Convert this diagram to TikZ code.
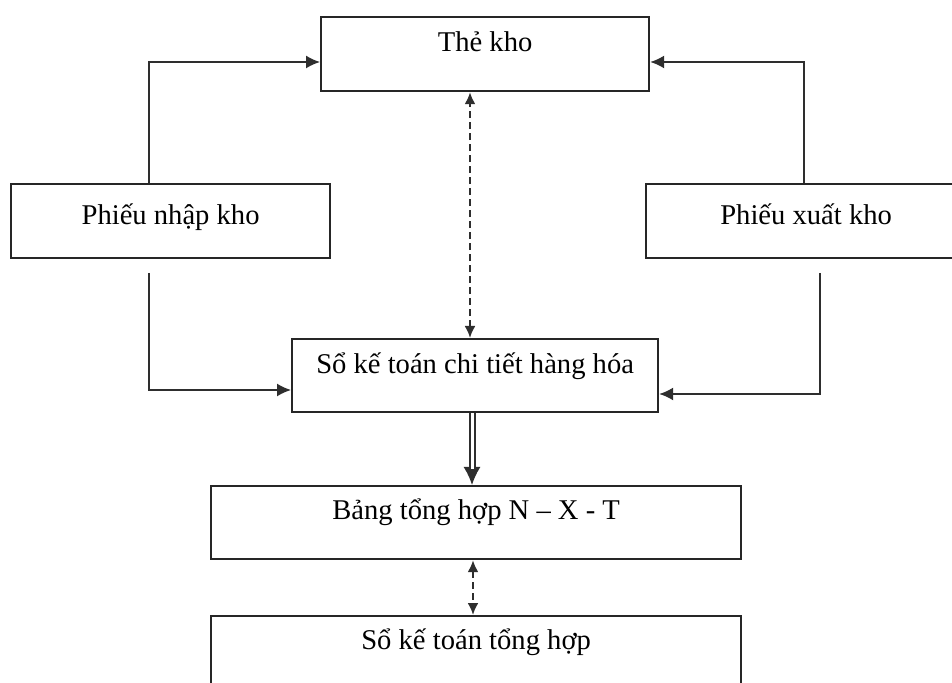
\documentclass[tikz,border=0pt]{standalone}
\usepackage{fontspec}
\setmainfont{Liberation Serif}
\usetikzlibrary{arrows.meta}
\definecolor{boxline}{HTML}{262626}
\definecolor{linkline}{HTML}{2E2E2E}
\begin{document}
\begin{tikzpicture}[x=0.5pt,y=-0.5pt,
  box/.style={draw=boxline, line width=1.1pt, inner sep=0pt, anchor=north west,
    font=\fontsize{14.3pt}{17pt}\selectfont, text=black},
  toprow/.style={text height=17pt, text depth=20pt},
  midrow/.style={text height=20pt, text depth=17pt},
  conn/.style={draw=linkline, line width=0.8pt, -{Latex[length=7pt,width=6.5pt]}},
  dashedlink/.style={draw=linkline, line width=1.1pt, dash pattern=on 3.5pt off 2pt,
    {Latex[length=6pt,width=5.5pt]}-{Latex[length=6pt,width=5.5pt]}},
  mainflow/.style={draw=linkline, line width=1pt, double=white, double distance=1.5pt}
]
\useasboundingbox (0,0) rectangle (952,683);

% boxes
\node[box, toprow, minimum width=164pt] (the) at (320,16) {Thẻ kho};
\node[box, midrow, minimum width=159.5pt] (nhap) at (10,183) {Phiếu nhập kho};
\node[box, midrow, minimum width=160pt] (xuat) at (645,183) {Phiếu xuất kho};
\node[box, text height=17pt, text depth=19.5pt, minimum width=183pt] (mid) at (291,338) {Sổ kế toán chi tiết hàng hóa};
\node[box, text height=16.5pt, text depth=20pt, minimum width=265pt] (bang) at (210,485) {Bảng tổng hợp N – X - T};
\node[box, text height=16.5pt, text depth=20pt, minimum width=265pt] (tong) at (210,615) {Sổ kế toán tổng hợp};

% bends and free ends of the connectors
\coordinate (nl) at (149,62);
\coordinate (nls) at (149,273);
\coordinate (nlc) at (149,390);
\coordinate (xr) at (804,62);
\coordinate (xrs) at (820,273);
\coordinate (xrc) at (820,394);
\coordinate (dx) at (470,0);
\coordinate (tx) at (472,0);
\coordinate (bx) at (473,0);

% input and output slips feed the stock card
\draw[conn] (nhap.north -| nl) -- (nl) -- (the.west |- nl);
\draw[conn] (xuat.north -| xr) -- (xr) -- (the.east |- xr);

% slips feed the detailed ledger
\draw[conn] (nls) -- (nlc) -- (mid.west |- nlc);
\draw[conn] (xrs) -- (xrc) -- (mid.east |- xrc);

% reconciliation links
\draw[dashedlink] (mid.north -| dx) -- (the.south -| dx);
\draw[dashedlink] (bang.south -| bx) -- (tong.north -| bx);

% detailed ledger to summary table
\draw[draw=linkline, line width=0.8pt, -{Latex[length=9pt,width=8.5pt]}] (mid.south -| tx) -- (bang.north -| tx);
\draw[mainflow, shorten >=8pt] (mid.south -| tx) -- (bang.north -| tx);
\end{tikzpicture}
\end{document}
